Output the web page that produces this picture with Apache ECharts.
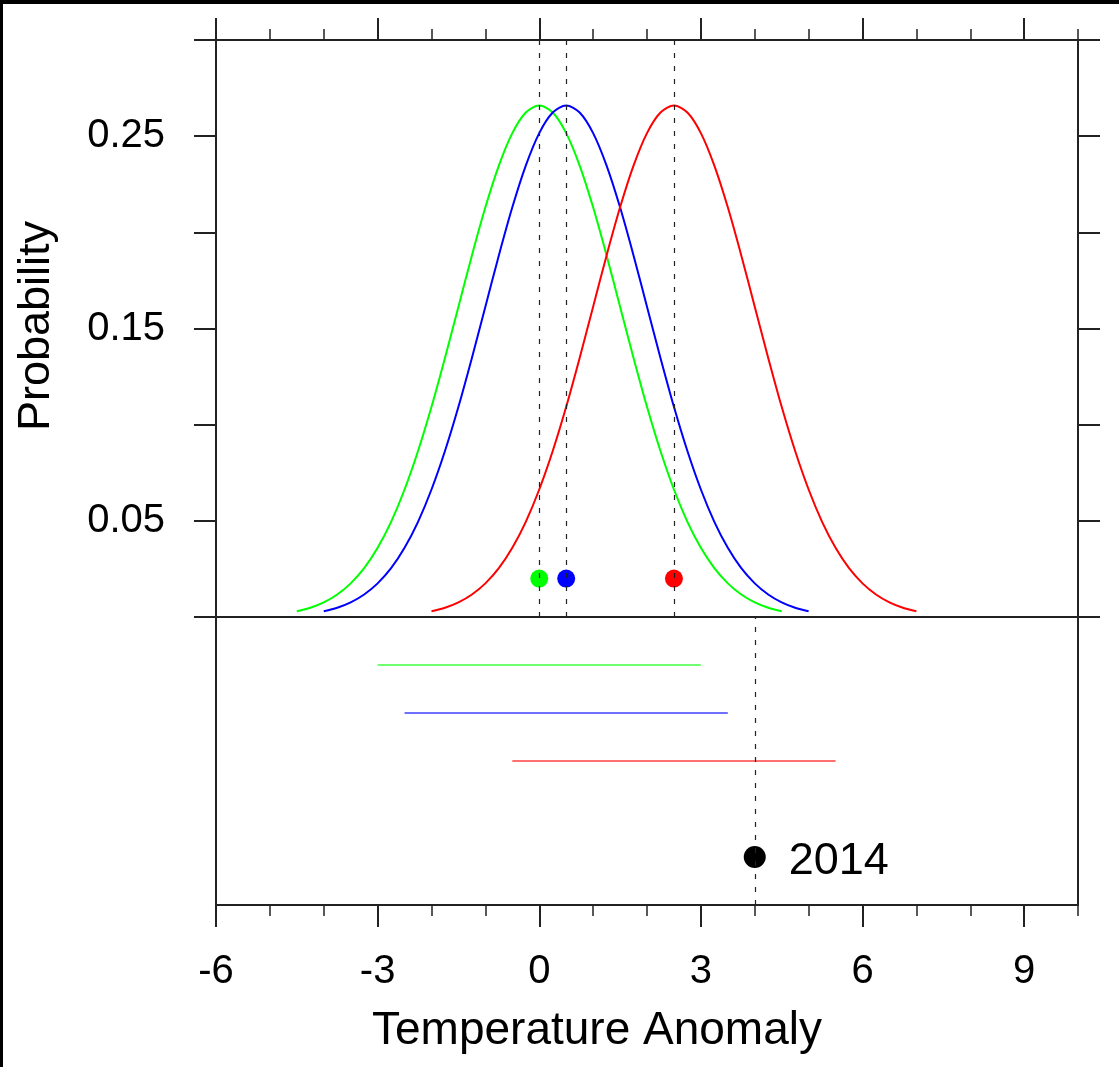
<!DOCTYPE html>
<html><head><meta charset="utf-8">
<script src="https://cdn.jsdelivr.net/npm/echarts@6/dist/echarts.min.js"></script>
<style>html,body{margin:0;padding:0;background:#fff}#c{width:1119px;height:1067px}</style>
</head><body><div id="c"></div>
<script>
// ---- data ----
const xMajorTicks = [-6, -3, 0, 3, 6, 9];
const yLabelTicks = [0.05, 0.15, 0.25];
const seriesNames = ['green', 'blue', 'red'];
const means = [0, 0.5, 2.5];
const profileOffsets = [-4.5, -4.25, -4, -3.75, -3.5, -3.25, -3, -2.75, -2.5, -2.25, -2, -1.75, -1.5, -1.25, -1, -0.75, -0.5, -0.25, 0,
  0.25, 0.5, 0.75, 1, 1.25, 1.5, 1.75, 2, 2.25, 2.5, 2.75, 3, 3.25, 3.5, 3.75, 4, 4.25, 4.5];
const profileDensity = [0.0030, 0.0048, 0.0076, 0.0117, 0.0175, 0.0254, 0.0360, 0.0495, 0.0663, 0.0863, 0.1093, 0.1347, 0.1613, 0.1880, 0.2130, 0.2347, 0.2516, 0.2623, 0.2660,
  0.2623, 0.2516, 0.2347, 0.2130, 0.1880, 0.1613, 0.1347, 0.1093, 0.0863, 0.0663, 0.0495, 0.0360, 0.0254, 0.0175, 0.0117, 0.0076, 0.0048, 0.0030];
const meanMarkerY = 0.02;
const rangeLow = [-3, -2.5, -0.5];
const rangeHigh = [3, 3.5, 5.5];
const rangeRow = [5, 4, 3];
const obsValue = 4;
const obsRow = 1;
const obsLabel = '2014';
const xTitle = 'Temperature Anomaly';
const yTitle = 'Probability';

// ---- styles ----
const colors = ['#00ff00', '#0000ff', '#ff0000'];
const FONT = '"Liberation Sans", Arial, Helvetica, sans-serif';
const AX = '#222';

const chart = echarts.init(document.getElementById('c'), null, {renderer: 'canvas'});

function majorX(grid, pos, labels) {
  return {
    gridIndex: grid, type: 'value', position: pos, min: -6, max: 10, interval: 3,
    axisLine: {show: false, onZero: false}, splitLine: {show: false},
    axisTick: {show: true, length: 22, lineStyle: {color: AX, width: 2}, customValues: xMajorTicks},
    axisLabel: labels ? {show: true, customValues: xMajorTicks, fontSize: 40, fontFamily: FONT, color: '#000', margin: 47} : {show: false}
  };
}
function minorX(grid, pos) {
  return {
    gridIndex: grid, type: 'value', position: pos, min: -6, max: 10, interval: 1,
    axisLine: {show: false, onZero: false}, splitLine: {show: false},
    axisTick: {show: true, length: 11, lineStyle: {color: AX, width: 1.5}},
    axisLabel: {show: false}
  };
}
function probY(pos, labels) {
  return {
    gridIndex: 0, type: 'value', position: pos, min: 0, max: 0.3, interval: 0.05,
    axisLine: {show: false, onZero: false}, splitLine: {show: false},
    axisTick: {show: true, length: 22, lineStyle: {color: AX, width: 2}},
    axisLabel: labels ? {
      show: true, fontSize: 40, fontFamily: FONT, color: '#000', margin: 51,
      formatter: v => yLabelTicks.some(t => Math.abs(t - v) < 1e-9) ? v.toFixed(2) : ''
    } : {show: false}
  };
}

const series = [];
means.forEach((m, i) => {
  series.push({
    name: seriesNames[i], type: 'line', xAxisIndex: 0, yAxisIndex: 0,
    data: profileOffsets.map((d, k) => [m + d, profileDensity[k]]),
    showSymbol: false, smooth: 0.3, lineStyle: {color: colors[i], width: 2}, z: 2, silent: true
  });
});
series.push({
  type: 'scatter', xAxisIndex: 0, yAxisIndex: 0, symbolSize: 18, z: 3, silent: true,
  data: means.map((m, i) => ({value: [m, meanMarkerY], itemStyle: {color: colors[i], opacity: 1}})),
  markLine: {
    silent: true, symbol: 'none', z: 5, label: {show: false},
    lineStyle: {color: '#222', width: 1.2, type: [5, 8], opacity: 1},
    data: means.map(m => ({xAxis: m}))
  }
});
means.forEach((m, i) => {
  series.push({
    type: 'line', xAxisIndex: 2, yAxisIndex: 2, showSymbol: false, silent: true,
    data: [[rangeLow[i], rangeRow[i]], [rangeHigh[i], rangeRow[i]]],
    lineStyle: {color: colors[i], width: 1.5, opacity: 0.75}
  });
});
series.push({
  type: 'scatter', xAxisIndex: 2, yAxisIndex: 2, symbolSize: 22, silent: true, z: 3,
  itemStyle: {color: '#000', opacity: 1},
  data: [[obsValue, obsRow]],
  label: {show: true, position: 'right', distance: 23, offset: [0, 5], formatter: obsLabel, fontSize: 45, fontFamily: FONT, color: '#000'},
  markLine: {
    silent: true, symbol: 'none', z: 5, label: {show: false},
    lineStyle: {color: '#222', width: 1.2, type: [5, 8], opacity: 1},
    data: [{xAxis: obsValue}]
  }
});

chart.setOption({
  animation: false,
  backgroundColor: '#fff',
  grid: [
    {left: 216, top: 40, width: 862, height: 577, show: true, borderColor: AX, borderWidth: 2, backgroundColor: 'transparent'},
    {left: 216, top: 617, width: 862, height: 288, show: true, borderColor: AX, borderWidth: 2, backgroundColor: 'transparent'}
  ],
  xAxis: [majorX(0, 'top', false), minorX(0, 'top'), majorX(1, 'bottom', true), minorX(1, 'bottom')],
  yAxis: [probY('left', true), probY('right', false),
    {gridIndex: 1, type: 'value', min: 0, max: 6, show: false, axisLine: {onZero: false}}],
  series: series,
  graphic: [
    {type: 'rect', shape: {x: 0, y: 0, width: 1119, height: 4}, style: {fill: '#000'}},
    {type: 'rect', shape: {x: 0, y: 0, width: 3, height: 1067}, style: {fill: '#000'}},
    {type: 'text', x: 597, y: 1031, style: {text: xTitle, font: '46px ' + FONT, fill: '#000', align: 'center', verticalAlign: 'middle'}},
    {type: 'text', x: 37, y: 326, rotation: Math.PI / 2, style: {text: yTitle, font: '45px ' + FONT, fill: '#000', align: 'center', verticalAlign: 'middle'}}
  ]
});
</script>
</body></html>
